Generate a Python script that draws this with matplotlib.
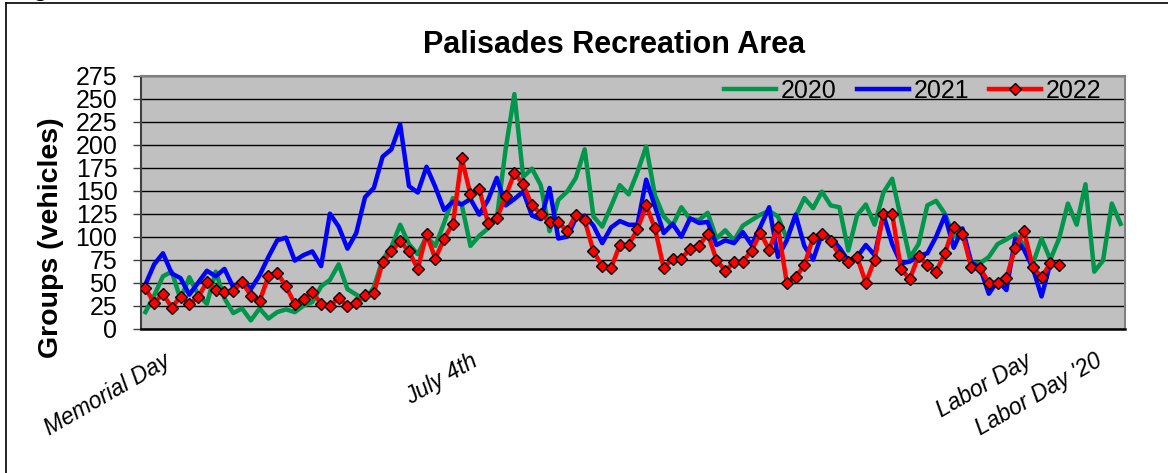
import matplotlib
matplotlib.use("Agg")
import matplotlib.pyplot as plt
from matplotlib.lines import Line2D

plt.rcParams['font.family'] = ['Liberation Sans', 'DejaVu Sans']

# ---------------- data ----------------
title = "Palisades Recreation Area"
ylabel = "Groups (vehicles)"
series_names = ["2020", "2021", "2022"]

tick_positions = [2, 37, 100, 108]
tick_labels = ["Memorial Day", "July 4th", "Labor Day", "Labor Day '20"]

values_2020 = [18, 36, 57, 62, 32, 56, 37, 27, 62, 33, 17, 22, 9, 22, 11, 18, 21, 18, 25, 29,
               46, 53, 70, 43, 37, 31, 45, 75, 89, 113, 92, 81, 100, 90, 115, 142, 135, 90, 101, 109,
               120, 195, 255, 165, 174, 156, 106, 140, 149, 164, 195, 122, 111, 133, 156, 146, 170, 198, 145, 122,
               112, 132, 119, 118, 126, 98, 107, 96, 112, 118, 124, 128, 122, 98, 122, 142, 131, 149, 134, 132,
               85, 123, 135, 113, 148, 163, 120, 77, 92, 134, 139, 125, 100, 105, 72, 71, 78, 92, 97, 103,
               91, 70, 98, 75, 98, 136, 113, 157, 62, 74, 136, 114]

values_2021 = [48, 70, 82, 60, 55, 37, 50, 63, 57, 65, 45, 53, 43, 58, 78, 96, 99, 74, 80, 84,
               68, 125, 111, 87, 104, 143, 153, 187, 195, 222, 155, 148, 176, 154, 129, 138, 135, 141, 124, 140,
               164, 134, 141, 149, 123, 119, 153, 98, 100, 120, 123, 112, 93, 110, 117, 113, 113, 162, 133, 104,
               114, 100, 120, 115, 116, 91, 96, 93, 105, 91, 111, 132, 78, 96, 124, 90, 75, 103, 99, 88,
               74, 78, 91, 80, 124, 92, 71, 73, 79, 82, 100, 123, 88, 109, 72, 66, 38, 52, 42, 98,
               86, 66, 35, 71]

values_2022 = [44, 28, 38, 23, 35, 27, 34, 51, 42, 40, 41, 51, 36, 30, 57, 61, 46, 27, 32, 40,
               27, 25, 33, 25, 28, 37, 39, 72, 84, 95, 84, 65, 103, 76, 98, 114, 185, 146, 152, 115,
               120, 144, 169, 157, 134, 125, 116, 116, 106, 124, 118, 84, 68, 66, 91, 91, 108, 134, 109, 66,
               76, 76, 87, 90, 103, 75, 63, 72, 73, 85, 104, 86, 111, 50, 56, 69, 99, 103, 95, 80,
               73, 78, 50, 75, 125, 125, 65, 54, 79, 69, 62, 82, 111, 103, 67, 66, 50, 50, 55, 88,
               106, 67, 56, 71, 69]

y_ticks = list(range(0, 276, 25))

# ---------------- figure ----------------
W, H = 1168, 473
fig = plt.figure(figsize=(W / 100, H / 100), dpi=100)
fig.patch.set_facecolor('white')

left, right, top, bottom = 141, 1125, 75.7, 328.7
ax = fig.add_axes([left / W, 1 - bottom / H, (right - left) / W, (bottom - top) / H])
ax.set_facecolor('#C0C0C0')

green = '#00964B'
blue = '#0000FF'
red = '#FF0000'

ax.plot(range(len(values_2020)), values_2020, color=green, lw=3.2, label=series_names[0],
        solid_joinstyle='round', zorder=3)
ax.plot(range(len(values_2021)), values_2021, color=blue, lw=3.2, label=series_names[1],
        solid_joinstyle='round', zorder=4)
ax.plot(range(len(values_2022)), values_2022, color=red, lw=3.2, label=series_names[2],
        marker='D', markersize=6.3, markerfacecolor=red, markeredgecolor='black',
        markeredgewidth=1.0, solid_joinstyle='round', zorder=5)

ax.set_xlim(-0.5, len(values_2020) - 0.5)
ax.set_ylim(0, 275)
ax.set_yticks(y_ticks)
ax.set_yticklabels([str(v) for v in y_ticks])
ax.yaxis.grid(True, color='black', lw=1.0, zorder=1)
ax.set_axisbelow(True)

ax.tick_params(axis='y', direction='out', length=6, width=1.0, color='#404040',
               labelsize=18, pad=11)
ax.set_xticks(tick_positions)
ax.set_xticklabels(tick_labels, rotation=30, ha='right', va='top',
                   rotation_mode='anchor', fontsize=16.5, fontstyle='italic')
ax.tick_params(axis='x', length=0, pad=15)

for s in ['top', 'right']:
    ax.spines[s].set_color('#808080')
    ax.spines[s].set_linewidth(1.5)
ax.spines['left'].set_color('#404040')
ax.spines['left'].set_linewidth(1.5)
ax.spines['bottom'].set_color('black')
ax.spines['bottom'].set_linewidth(1.8)

leg = ax.legend(loc='center right', bbox_to_anchor=((1101.7 - left) / (right - left),
                                                    (bottom - 90.7) / (bottom - top)),
                ncol=3, frameon=False, fontsize=18, handlelength=2.08,
                handletextpad=0.19, columnspacing=0.8, borderpad=0, borderaxespad=0,
                numpoints=1)

fig.text(614 / W, 1 - 45 / H, title, ha='center', va='center', fontsize=22,
         fontweight='bold')
fig.text(51 / W, 1 - 238 / H, ylabel, rotation=90, ha='center', va='center',
         fontsize=20.5, fontweight='bold')

# outer frame (cropped chart border)
fig.add_artist(Line2D([6 / W, 6 / W], [0, 1 - 3 / H], transform=fig.transFigure,
                      color='black', lw=1.2))
fig.add_artist(Line2D([6 / W, 1], [1 - 3 / H, 1 - 3 / H], transform=fig.transFigure,
                      color='black', lw=1.2))
# clipped piece of a heading above the chart (cut off in the reference too)
fig.text(41 / W, 1 + 4 / H, "g", ha='center', va='baseline', fontsize=18,
         fontweight='bold')

fig.savefig('out.png', dpi=100)
